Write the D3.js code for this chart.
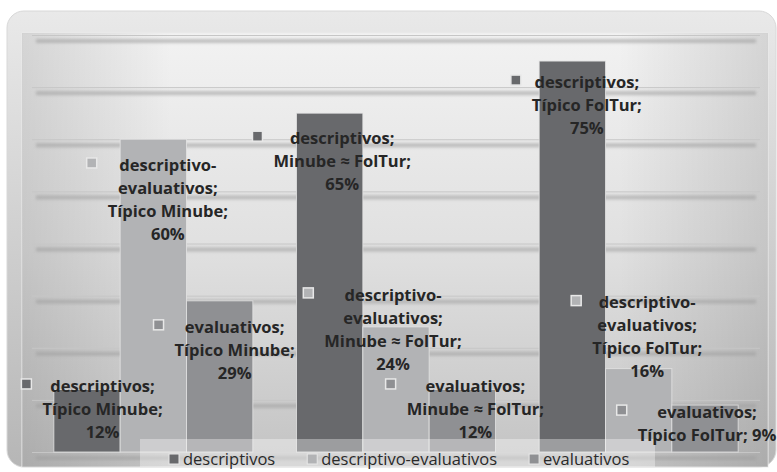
<!DOCTYPE html>
<html><head><meta charset="utf-8">
<script src="https://cdn.jsdelivr.net/npm/d3@7"></script>
<style>html,body{margin:0;padding:0;background:#fff;}svg{display:block;}</style>
</head><body><svg id="c" width="777" height="472"></svg>
<script>
const categories = ["Típico Minube", "Minube ≈ FolTur", "Típico FolTur"];
const seriesNames = ["descriptivos", "descriptivo-evaluativos", "evaluativos"];
const descriptivos = [0.12, 0.65, 0.75];
const descriptivoEvaluativos = [0.60, 0.24, 0.16];
const evaluativos = [0.29, 0.12, 0.09];
const yTicks = [0, 0.1, 0.2, 0.3, 0.4, 0.5, 0.6, 0.7, 0.8];
// label layout (offsets from bar centre / bar top), in series-major order
const labelOffsets = [
  [[15.5,-3.5],[12.5,25],[14.5,21]],
  [[14.5,25.7],[-3,-32],[8.5,-66]],
  [[15,26],[13,-3.5],[2,7]]
];

const colors = ["#68696c", "#b2b3b5", "#8f9093"];
const values = [descriptivos, descriptivoEvaluativos, evaluativos];
const svg = d3.select("#c");
const defs = svg.append("defs");

const gOuter = defs.append("linearGradient").attr("id","gOuter").attr("x1",0).attr("y1",0).attr("x2",0).attr("y2",1);
gOuter.append("stop").attr("offset",0).attr("stop-color","#e9e9e9");
gOuter.append("stop").attr("offset",1).attr("stop-color","#b6b6b6");
const gInner = defs.append("linearGradient").attr("id","gInner").attr("x1",0).attr("y1",0).attr("x2",0).attr("y2",1);
gInner.append("stop").attr("offset",0).attr("stop-color","#f2f2f2");
gInner.append("stop").attr("offset",0.5).attr("stop-color","#e0e0e0");
gInner.append("stop").attr("offset",1).attr("stop-color","#c3c3c3");
const gSide = defs.append("linearGradient").attr("id","gSide").attr("x1",0).attr("y1",0).attr("x2",1).attr("y2",0);
gSide.append("stop").attr("offset",0).attr("stop-color","#000").attr("stop-opacity",0.12);
gSide.append("stop").attr("offset",0.2).attr("stop-color","#000").attr("stop-opacity",0);
gSide.append("stop").attr("offset",0.8).attr("stop-color","#000").attr("stop-opacity",0);
gSide.append("stop").attr("offset",1).attr("stop-color","#000").attr("stop-opacity",0.12);
defs.append("filter").attr("id","blur").attr("x","-5%").attr("y","-200%").attr("width","110%").attr("height","500%")
  .append("feGaussianBlur").attr("stdDeviation",1.8);

// panel
svg.append("rect").attr("x",7).attr("y",11).attr("width",769).attr("height",456).attr("rx",17)
  .attr("fill","url(#gOuter)").attr("stroke","#d8d8d8");
svg.append("rect").attr("x",22).attr("y",33).attr("width",746).attr("height",434)
  .attr("fill","url(#gInner)").attr("stroke","#ececec");
svg.append("rect").attr("x",22).attr("y",33).attr("width",746).attr("height",434)
  .attr("fill","url(#gSide)");

const margin = {left:32, right:760, top:35, bottom:452};
const y = d3.scaleLinear().domain([0,0.8]).range([margin.bottom, margin.top]);
const x0 = d3.scaleBand().domain(categories).range([margin.left, margin.right]).paddingInner(0.18).paddingOuter(0.09);
const x1 = d3.scaleBand().domain(seriesNames).range([0, x0.bandwidth()]);

// gridlines with soft shadow band
const grid = svg.append("g");
grid.selectAll("rect.sh").data(yTicks).join("rect").attr("class","sh")
  .attr("x", margin.left+4).attr("width", margin.right-margin.left-8)
  .attr("y", d => y(d)+4).attr("height",4).attr("fill","#9e9e9e").attr("opacity",0.6)
  .attr("filter","url(#blur)");
grid.selectAll("line").data(yTicks).join("line")
  .attr("x1", margin.left).attr("x2", margin.right)
  .attr("y1", d => y(d)+0.5).attr("y2", d => y(d)+0.5)
  .attr("stroke","#c6c6c6").attr("stroke-width",1);

// bars
const bars = svg.append("g");
seriesNames.forEach((s, si) => {
  bars.selectAll("rect.s"+si).data(values[si]).join("rect").attr("class","s"+si)
    .attr("x", (d,i) => x0(categories[i]) + x1(s))
    .attr("width", x1.bandwidth())
    .attr("y", d => y(d))
    .attr("height", d => y(0) - y(d))
    .attr("fill", colors[si])
    .attr("stroke","#e4e4e4").attr("stroke-opacity",0.8).attr("stroke-width",1);
});

// legend box
svg.append("rect").attr("x",140).attr("y",439).attr("width",515).attr("height",28)
  .attr("fill","#ffffff").attr("opacity",0.35);

// data labels
const fmt = d3.format(".0%");
const lineH = 23;
const labels = svg.append("g").attr("font-family","'Open Sans', sans-serif").attr("font-weight","bold")
  .attr("font-size",16.5).attr("fill","#262626");
seriesNames.forEach((s, si) => {
  values[si].forEach((v, i) => {
    const cx = x0(categories[i]) + x1(s) + x1.bandwidth()/2 + labelOffsets[si][i][0];
    const y1 = y(v) + labelOffsets[si][i][1];
    let lines;
    const sname = s === "descriptivo-evaluativos" ? ["descriptivo-", "evaluativos;"] : [s + ";"];
    if (si === 2 && i === 2) lines = [...sname, categories[i] + "; " + fmt(v)];
    else lines = [...sname, categories[i] + ";", fmt(v)];
    const t = labels.append("text").attr("text-anchor","middle");
    lines.forEach((ln, k) => {
      t.append("tspan").attr("x", cx).attr("y", y1 + k*lineH).attr("dy","0.35em").text(ln);
    });
    let maxW = 0;
    t.selectAll("tspan").each(function(){ maxW = Math.max(maxW, this.getComputedTextLength()); });
    labels.append("rect").attr("x", cx - maxW/2 - 21).attr("y", y1 - 7).attr("width",10).attr("height",10)
      .attr("fill", colors[si]).attr("stroke","#e8e8e8").attr("stroke-width",1.5);
  });
});

// legend
const leg = svg.append("g").attr("font-family","'Open Sans', sans-serif").attr("font-size",16.5).attr("fill","#2a2a2a");
let lx = 169;
seriesNames.forEach((s, si) => {
  leg.append("rect").attr("x", lx).attr("y", 454).attr("width",10).attr("height",10)
    .attr("fill", colors[si]).attr("stroke","#e8e8e8").attr("stroke-width",1);
  const t = leg.append("text").attr("x", lx+14).attr("y", 459).attr("dy","0.35em").text(s);
  lx += 14 + t.node().getComputedTextLength() + 32;
});
</script></body></html>
